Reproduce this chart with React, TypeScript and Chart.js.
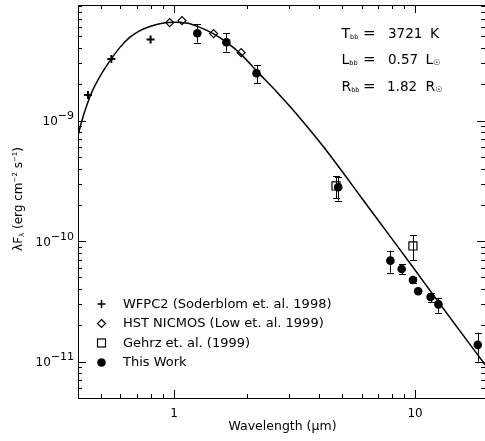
import React, { useEffect, useRef } from "react";
import { Chart, registerables } from "chart.js";

Chart.register(...registerables);

// ---- data ----
const modelWl = [0.4, 0.414, 0.453, 0.493, 0.546, 0.597, 0.657, 0.723, 0.795, 0.892, 1.01, 1.14, 1.28, 1.46, 1.65, 1.89, 2.2, 2.67, 3.03, 3.55, 4.17, 5.03, 6.1, 7.88, 9.84, 12.3, 20];
const modelFlux = [7.5e-10, 9.8e-10, 1.66e-9, 2.32e-9, 3.19e-9, 4.05e-9, 4.92e-9, 5.58e-9, 6.03e-9, 6.43e-9, 6.56e-9, 6.41e-9, 5.93e-9, 5.25e-9, 4.48e-9, 3.58e-9, 2.585e-9, 1.73e-9, 1.309e-9, 9.02e-10, 6.06e-10, 3.69e-10, 2.185e-10, 1.096e-10, 6.02e-11, 3.265e-11, 8.85e-12];

const wfpcWl = [0.44, 0.55, 0.8];
const wfpcFlux = [1.63e-9, 3.25e-9, 4.7e-9];

const nicmosWl = [0.96, 1.08, 1.46, 1.9];
const nicmosFlux = [6.5e-9, 6.76e-9, 5.27e-9, 3.66e-9];

const gehrzWl = [4.7, 9.8];
const gehrzFlux = [2.87e-10, 9.12e-11];
const gehrzLo = [2.27e-10, 6.98e-11];
const gehrzHi = [3.47e-10, 1.12e-10];

const workWl = [1.25, 1.65, 2.2, 4.8, 7.9, 8.8, 9.8, 10.3, 11.6, 12.5, 18.2];
const workFlux = [5.31e-9, 4.47e-9, 2.47e-9, 2.8e-10, 6.89e-11, 5.88e-11, 4.76e-11, 3.84e-11, 3.44e-11, 2.99e-11, 1.38e-11];
const workLo = [4.44e-9, 3.74e-9, 2.04e-9, 2.17e-10, 5.48e-11, 5.31e-11, 4.47e-11, 3.68e-11, 3.13e-11, 2.55e-11, 1.0e-11];
const workHi = [6.31e-9, 5.29e-9, 2.9e-9, 3.39e-10, 8.34e-11, 6.43e-11, 5.07e-11, 3.99e-11, 3.74e-11, 3.4e-11, 1.74e-11];

const xMajorTicks = [1, 10];
const xTickLabels = ["1", "10"];
const xMinorTicks = [0.4, 0.5, 0.6, 0.7, 0.8, 0.9, 2, 3, 4, 5, 6, 7, 8, 9];
const yMajorTicks = [1e-11, 1e-10, 1e-9];
const yTickExponents = ["\u221211", "\u221210", "\u22129"];
const yDecades = [1e-12, 1e-11, 1e-10, 1e-9];

const legendLabels = [
  "WFPC2 (Soderblom et. al. 1998)",
  "HST NICMOS (Low et. al. 1999)",
  "Gehrz et. al. (1999)",
  "This Work",
];

const FONT = "'DejaVu Sans', 'Liberation Sans', sans-serif";

const pts = (xs: number[], ys: number[]) => xs.map((x, i) => ({ x, y: ys[i] }));

type Part = { t: string; size: number; dy?: number };
function drawRich(ctx: CanvasRenderingContext2D, x: number, y: number, parts: Part[]) {
  let cx = x;
  for (const p of parts) {
    ctx.font = `${p.size}px ${FONT}`;
    ctx.fillText(p.t, cx, y + (p.dy || 0));
    cx += ctx.measureText(p.t).width;
  }
  return cx;
}
function richWidth(ctx: CanvasRenderingContext2D, parts: Part[]) {
  let w = 0;
  for (const p of parts) {
    ctx.font = `${p.size}px ${FONT}`;
    w += ctx.measureText(p.t).width;
  }
  return w;
}

const drawPlugin = {
  id: "sedDecor",
  beforeDatasetsDraw(chart: any) {
    const { ctx } = chart;
    const xs = chart.scales.x;
    const ys = chart.scales.y;
    ctx.save();
    ctx.strokeStyle = "#000";
    ctx.lineWidth = 1;
    const err = (wl: number[], lo: number[], hi: number[]) => {
      for (let i = 0; i < wl.length; i++) {
        const x = Math.round(xs.getPixelForValue(wl[i])) + 0.5;
        const y1 = ys.getPixelForValue(lo[i]);
        const y2 = ys.getPixelForValue(hi[i]);
        ctx.beginPath();
        ctx.moveTo(x, y1);
        ctx.lineTo(x, y2);
        ctx.moveTo(x - 3.5, Math.round(y1) + 0.5);
        ctx.lineTo(x + 3.5, Math.round(y1) + 0.5);
        ctx.moveTo(x - 3.5, Math.round(y2) + 0.5);
        ctx.lineTo(x + 3.5, Math.round(y2) + 0.5);
        ctx.stroke();
      }
    };
    err(gehrzWl, gehrzLo, gehrzHi);
    err(workWl, workLo, workHi);
    ctx.restore();
  },
  afterDraw(chart: any) {
    const { ctx, chartArea } = chart;
    const { left, right, top, bottom } = chartArea;
    const xs = chart.scales.x;
    const ys = chart.scales.y;
    ctx.save();
    ctx.strokeStyle = "#000";
    ctx.fillStyle = "#000";
    ctx.lineWidth = 1;
    // frame
    ctx.strokeRect(left + 0.5, top + 0.5, right - left, bottom - top);
    // x ticks
    const xt = (v: number, len: number) => {
      const p = Math.round(xs.getPixelForValue(v)) + 0.5;
      ctx.beginPath();
      ctx.moveTo(p, bottom);
      ctx.lineTo(p, bottom - len);
      ctx.moveTo(p, top);
      ctx.lineTo(p, top + len);
      ctx.stroke();
    };
    xMajorTicks.forEach((v) => xt(v, 8));
    xMinorTicks.forEach((v) => xt(v, 4));
    // y ticks
    const yt = (v: number, len: number) => {
      const p = Math.round(ys.getPixelForValue(v)) + 0.5;
      if (p < top || p > bottom + 1) return;
      ctx.beginPath();
      ctx.moveTo(left, p);
      ctx.lineTo(left + len, p);
      ctx.moveTo(right, p);
      ctx.lineTo(right - len, p);
      ctx.stroke();
    };
    yDecades.forEach((d) => {
      for (let k = 1; k <= 9; k++) yt(d * k, k === 1 ? 8 : 4);
    });
    // x tick labels
    ctx.textBaseline = "alphabetic";
    ctx.font = `12px ${FONT}`;
    ctx.textAlign = "center";
    xMajorTicks.forEach((v, i) => {
      ctx.fillText(xTickLabels[i], xs.getPixelForValue(v), 417);
    });
    // y tick labels 10^n
    ctx.textAlign = "left";
    yMajorTicks.forEach((v, i) => {
      const p = ys.getPixelForValue(v);
      const parts: Part[] = [
        { t: "10", size: 12, dy: 4.5 },
        { t: yTickExponents[i], size: 11, dy: -1.5 },
      ];
      const w = richWidth(ctx, parts);
      drawRich(ctx, 74 - w, p, parts);
    });
    // x title
    ctx.textAlign = "left";
    const xtParts: Part[] = [{ t: "Wavelength (\u03BCm)", size: 12.5 }];
    const xw = richWidth(ctx, xtParts);
    drawRich(ctx, (left + right) / 2 - xw / 2 + 1, 430, xtParts);
    // y title (rotated)
    ctx.save();
    ctx.translate(22, 199);
    ctx.rotate(-Math.PI / 2);
    const ytParts: Part[] = [
      { t: "\u03BBF", size: 12 },
      { t: "\u03BB", size: 7, dy: 2 },
      { t: " (erg cm", size: 12 },
      { t: "\u22122", size: 7, dy: -5 },
      { t: " s", size: 12 },
      { t: "\u22121", size: 7, dy: -5 },
      { t: ")", size: 12 },
    ];
    const yw = richWidth(ctx, ytParts);
    drawRich(ctx, -yw / 2, 0, ytParts);
    ctx.restore();

    // parameter text
    const rows = [
      { sym: "T", val: "3721", unit: "K", sun: false, base: 37.5, vx: 388 },
      { sym: "L", val: "0.57", unit: "L", sun: true, base: 64, vx: 388 },
      { sym: "R", val: "1.82", unit: "R", sun: true, base: 90.5, vx: 387 },
    ];
    rows.forEach((r) => {
      drawRich(ctx, 341.5, r.base, [
        { t: r.sym, size: 14 },
        { t: "bb", size: 6.5, dy: 1 },
      ]);
      drawRich(ctx, 363, r.base, [{ t: "=", size: 15 }]);
      drawRich(ctx, r.vx, r.base, [{ t: r.val, size: 13.5 }]);
      const parts: Part[] = [{ t: r.unit, size: 14 }];
      if (r.sun) parts.push({ t: "\u2609", size: 8, dy: 1 });
      drawRich(ctx, r.sun ? 425.5 : 430, r.base, parts);
    });

    // legend
    const lx = 101.5;
    const tx = 123;
    const ly = [304, 323.5, 343, 362.5];
    ctx.font = `13px ${FONT}`;
    ctx.textBaseline = "middle";
    legendLabels.forEach((s, i) => ctx.fillText(s, tx, ly[i] + 0.5));
    ctx.lineWidth = 1.5;
    // plus
    ctx.beginPath();
    ctx.moveTo(lx - 4, ly[0]);
    ctx.lineTo(lx + 4, ly[0]);
    ctx.moveTo(lx, ly[0] - 4);
    ctx.lineTo(lx, ly[0] + 4);
    ctx.stroke();
    // diamond
    ctx.lineWidth = 1.2;
    ctx.beginPath();
    ctx.moveTo(lx, ly[1] - 4);
    ctx.lineTo(lx + 4, ly[1]);
    ctx.lineTo(lx, ly[1] + 4);
    ctx.lineTo(lx - 4, ly[1]);
    ctx.closePath();
    ctx.stroke();
    // square
    ctx.strokeRect(lx - 4, ly[2] - 4, 8, 8);
    // circle
    ctx.beginPath();
    ctx.arc(lx, ly[3], 4.3, 0, Math.PI * 2);
    ctx.fill();
    ctx.restore();
  },
};

export default function App() {
  const ref = useRef<HTMLCanvasElement>(null);
  useEffect(() => {
    if (!ref.current) return;
    const chart = new Chart(ref.current, {
      type: "scatter",
      data: {
        datasets: [
          {
            label: "model",
            data: pts(modelWl, modelFlux),
            showLine: true,
            borderColor: "#000",
            borderWidth: 1.5,
            pointRadius: 0,
            cubicInterpolationMode: "monotone",
            fill: false,
          } as any,
          {
            label: "WFPC2",
            data: pts(wfpcWl, wfpcFlux),
            pointStyle: "cross",
            pointRadius: 4,
            borderWidth: 2,
            borderColor: "#000",
            backgroundColor: "#000",
          },
          {
            label: "NICMOS",
            data: pts(nicmosWl, nicmosFlux),
            pointStyle: "rectRot",
            pointRadius: 4,
            borderWidth: 1.2,
            borderColor: "#000",
            backgroundColor: "#fff",
          },
          {
            label: "Gehrz",
            data: pts(gehrzWl, gehrzFlux),
            pointStyle: "rect",
            pointRadius: 5.7,
            borderWidth: 1.2,
            borderColor: "#000",
            backgroundColor: "rgba(0,0,0,0)",
          },
          {
            label: "This Work",
            data: pts(workWl, workFlux),
            pointStyle: "circle",
            pointRadius: 4.3,
            borderWidth: 0,
            borderColor: "#000",
            backgroundColor: "#000",
          },
        ],
      },
      options: {
        animation: false,
        responsive: false,
        events: [],
        layout: { autoPadding: false, padding: { left: 0, top: 5, right: 0, bottom: 0 } },
        plugins: { legend: { display: false }, tooltip: { enabled: false } },
        scales: {
          x: {
            type: "logarithmic",
            min: 0.4,
            max: 19.5,
            grid: { display: false },
            border: { display: false },
            ticks: { display: false },
            afterFit: (s: any) => {
              s.height = 43;
            },
          },
          y: {
            type: "logarithmic",
            min: 5e-12,
            max: 9.1e-9,
            grid: { display: false },
            border: { display: false },
            ticks: { display: false },
            afterFit: (s: any) => {
              s.width = 78;
            },
          },
        },
      },
      plugins: [drawPlugin],
    });
    return () => chart.destroy();
  }, []);
  return (
    <div style={{ position: "absolute", left: 0, top: 0, width: 485, height: 441, background: "#fff" }}>
      <canvas ref={ref} width={485} height={441} style={{ display: "block" }} />
    </div>
  );
}
